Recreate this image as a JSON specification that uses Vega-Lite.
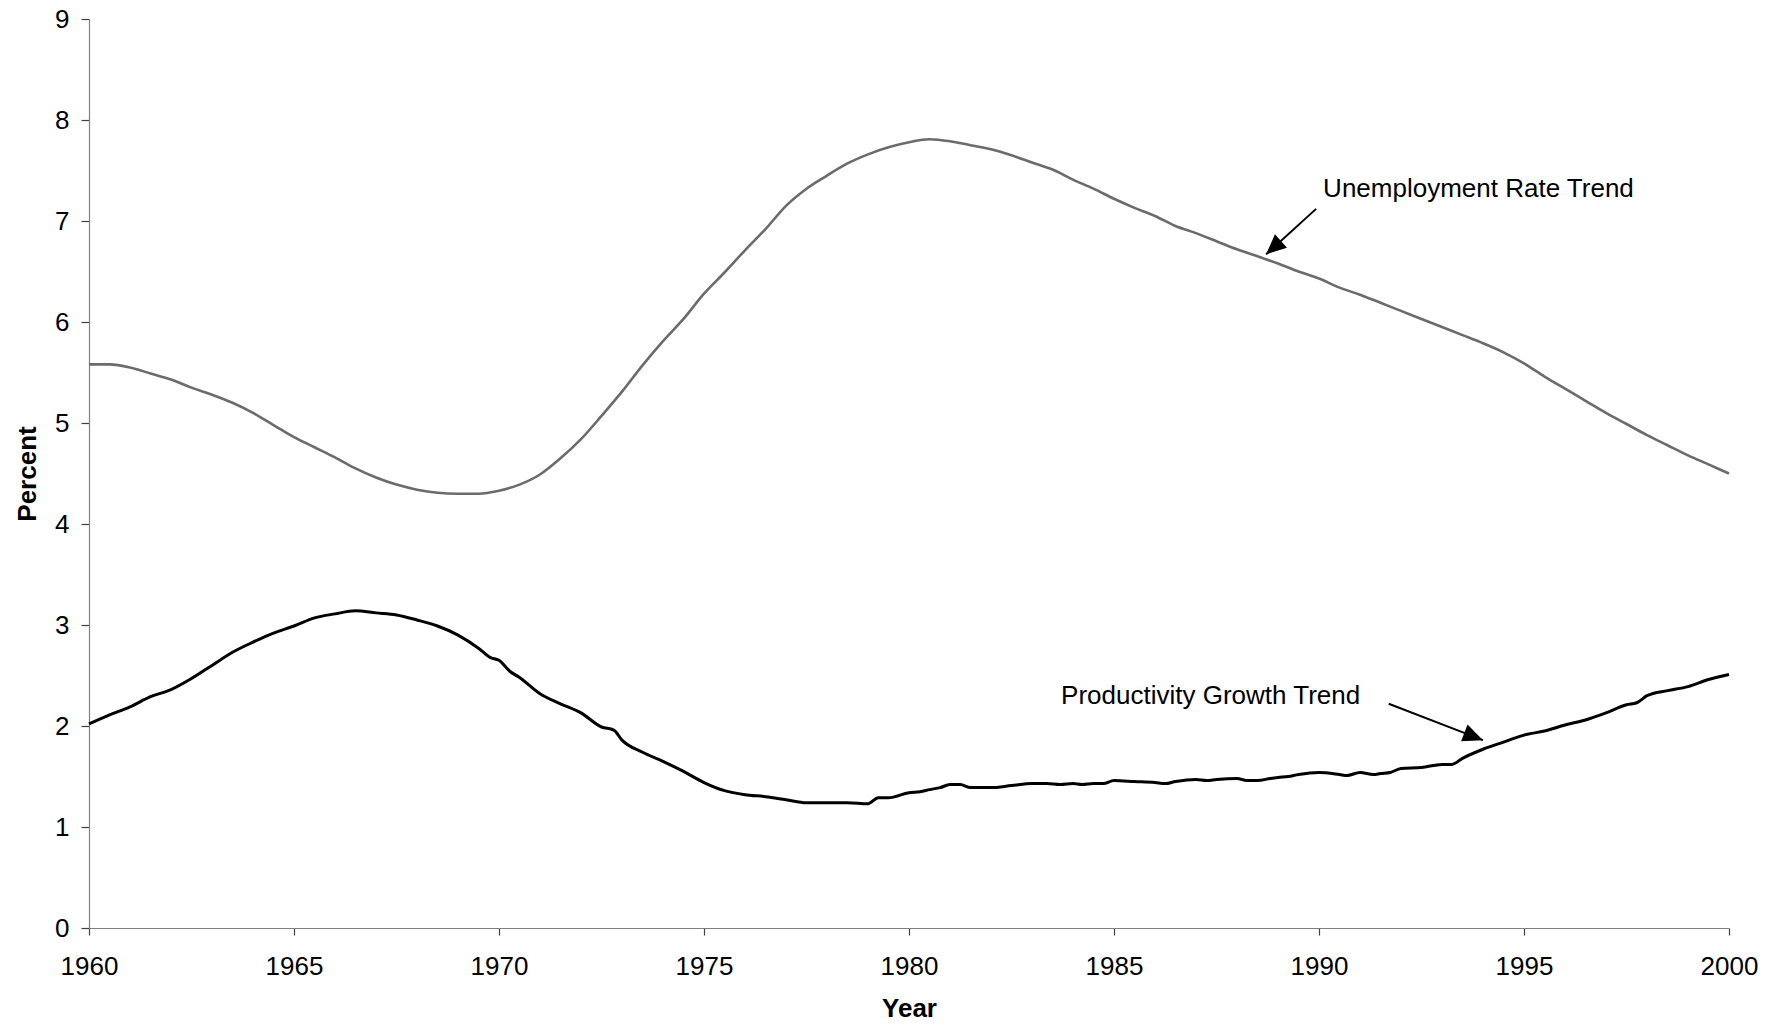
{
  "$schema": "https://vega.github.io/schema/vega-lite/v6.json",
  "width": 1640,
  "height": 909,
  "autosize": {"type": "none"},
  "padding": {"left": 89, "top": 19, "right": 53, "bottom": 99},
  "background": "white",
  "config": {
    "font": "Liberation Sans",
    "view": {"stroke": null},
    "axis": {
      "labelFont": "Liberation Sans",
      "labelFontSize": 26,
      "labelColor": "#000000",
      "titleFont": "Liberation Sans",
      "titleFontSize": 26,
      "titleFontWeight": "bold",
      "titleColor": "#000000",
      "domainColor": "#808080",
      "domainWidth": 1.2,
      "tickColor": "#404040",
      "tickWidth": 1.2,
      "grid": false
    }
  },
  "datasets": {
    "series": [
      {"series": "Unemployment", "year": 1960.0, "value": 5.58},
      {"series": "Unemployment", "year": 1960.5, "value": 5.58},
      {"series": "Unemployment", "year": 1961.0, "value": 5.55},
      {"series": "Unemployment", "year": 1961.5, "value": 5.49},
      {"series": "Unemployment", "year": 1962.0, "value": 5.43},
      {"series": "Unemployment", "year": 1962.5, "value": 5.35},
      {"series": "Unemployment", "year": 1963.0, "value": 5.28},
      {"series": "Unemployment", "year": 1963.5, "value": 5.2},
      {"series": "Unemployment", "year": 1964.0, "value": 5.1},
      {"series": "Unemployment", "year": 1964.5, "value": 4.98},
      {"series": "Unemployment", "year": 1965.0, "value": 4.86},
      {"series": "Unemployment", "year": 1965.5, "value": 4.76},
      {"series": "Unemployment", "year": 1966.0, "value": 4.66},
      {"series": "Unemployment", "year": 1966.5, "value": 4.55},
      {"series": "Unemployment", "year": 1967.0, "value": 4.46},
      {"series": "Unemployment", "year": 1967.5, "value": 4.39},
      {"series": "Unemployment", "year": 1968.0, "value": 4.34},
      {"series": "Unemployment", "year": 1968.5, "value": 4.31},
      {"series": "Unemployment", "year": 1969.0, "value": 4.3},
      {"series": "Unemployment", "year": 1969.5, "value": 4.3},
      {"series": "Unemployment", "year": 1970.0, "value": 4.33},
      {"series": "Unemployment", "year": 1970.5, "value": 4.39},
      {"series": "Unemployment", "year": 1971.0, "value": 4.49},
      {"series": "Unemployment", "year": 1971.5, "value": 4.65},
      {"series": "Unemployment", "year": 1972.0, "value": 4.84},
      {"series": "Unemployment", "year": 1972.5, "value": 5.07},
      {"series": "Unemployment", "year": 1973.0, "value": 5.31},
      {"series": "Unemployment", "year": 1973.5, "value": 5.57},
      {"series": "Unemployment", "year": 1974.0, "value": 5.81},
      {"series": "Unemployment", "year": 1974.5, "value": 6.03},
      {"series": "Unemployment", "year": 1975.0, "value": 6.28},
      {"series": "Unemployment", "year": 1975.5, "value": 6.49},
      {"series": "Unemployment", "year": 1976.0, "value": 6.71},
      {"series": "Unemployment", "year": 1976.5, "value": 6.92},
      {"series": "Unemployment", "year": 1977.0, "value": 7.15},
      {"series": "Unemployment", "year": 1977.5, "value": 7.32},
      {"series": "Unemployment", "year": 1978.0, "value": 7.45},
      {"series": "Unemployment", "year": 1978.5, "value": 7.57},
      {"series": "Unemployment", "year": 1979.0, "value": 7.66},
      {"series": "Unemployment", "year": 1979.5, "value": 7.73},
      {"series": "Unemployment", "year": 1980.0, "value": 7.78},
      {"series": "Unemployment", "year": 1980.5, "value": 7.81},
      {"series": "Unemployment", "year": 1981.0, "value": 7.79},
      {"series": "Unemployment", "year": 1981.5, "value": 7.75},
      {"series": "Unemployment", "year": 1982.0, "value": 7.71},
      {"series": "Unemployment", "year": 1982.5, "value": 7.65},
      {"series": "Unemployment", "year": 1983.0, "value": 7.58},
      {"series": "Unemployment", "year": 1983.5, "value": 7.51},
      {"series": "Unemployment", "year": 1984.0, "value": 7.41},
      {"series": "Unemployment", "year": 1984.5, "value": 7.32},
      {"series": "Unemployment", "year": 1985.0, "value": 7.22},
      {"series": "Unemployment", "year": 1985.5, "value": 7.13},
      {"series": "Unemployment", "year": 1986.0, "value": 7.05},
      {"series": "Unemployment", "year": 1986.5, "value": 6.95},
      {"series": "Unemployment", "year": 1987.0, "value": 6.88},
      {"series": "Unemployment", "year": 1987.5, "value": 6.8},
      {"series": "Unemployment", "year": 1988.0, "value": 6.72},
      {"series": "Unemployment", "year": 1988.5, "value": 6.65},
      {"series": "Unemployment", "year": 1989.0, "value": 6.58},
      {"series": "Unemployment", "year": 1989.5, "value": 6.5},
      {"series": "Unemployment", "year": 1990.0, "value": 6.43},
      {"series": "Unemployment", "year": 1990.5, "value": 6.34},
      {"series": "Unemployment", "year": 1991.0, "value": 6.27},
      {"series": "Unemployment", "year": 1991.5, "value": 6.19},
      {"series": "Unemployment", "year": 1992.0, "value": 6.11},
      {"series": "Unemployment", "year": 1992.5, "value": 6.03},
      {"series": "Unemployment", "year": 1993.0, "value": 5.95},
      {"series": "Unemployment", "year": 1993.5, "value": 5.87},
      {"series": "Unemployment", "year": 1994.0, "value": 5.79},
      {"series": "Unemployment", "year": 1994.5, "value": 5.7},
      {"series": "Unemployment", "year": 1995.0, "value": 5.59},
      {"series": "Unemployment", "year": 1995.5, "value": 5.46},
      {"series": "Unemployment", "year": 1996.0, "value": 5.34},
      {"series": "Unemployment", "year": 1996.5, "value": 5.22},
      {"series": "Unemployment", "year": 1997.0, "value": 5.1},
      {"series": "Unemployment", "year": 1997.5, "value": 4.99},
      {"series": "Unemployment", "year": 1998.0, "value": 4.88},
      {"series": "Unemployment", "year": 1998.5, "value": 4.78},
      {"series": "Unemployment", "year": 1999.0, "value": 4.68},
      {"series": "Unemployment", "year": 1999.5, "value": 4.59},
      {"series": "Unemployment", "year": 2000.0, "value": 4.5},
      {"series": "Productivity", "year": 1960.0, "value": 2.02},
      {"series": "Productivity", "year": 1960.5, "value": 2.11},
      {"series": "Productivity", "year": 1961.0, "value": 2.19},
      {"series": "Productivity", "year": 1961.5, "value": 2.29},
      {"series": "Productivity", "year": 1962.0, "value": 2.36},
      {"series": "Productivity", "year": 1962.5, "value": 2.47},
      {"series": "Productivity", "year": 1963.0, "value": 2.6},
      {"series": "Productivity", "year": 1963.5, "value": 2.73},
      {"series": "Productivity", "year": 1964.0, "value": 2.83},
      {"series": "Productivity", "year": 1964.5, "value": 2.92},
      {"series": "Productivity", "year": 1965.0, "value": 2.99},
      {"series": "Productivity", "year": 1965.5, "value": 3.07},
      {"series": "Productivity", "year": 1966.0, "value": 3.11},
      {"series": "Productivity", "year": 1966.5, "value": 3.14},
      {"series": "Productivity", "year": 1967.0, "value": 3.12},
      {"series": "Productivity", "year": 1967.5, "value": 3.1},
      {"series": "Productivity", "year": 1968.0, "value": 3.05},
      {"series": "Productivity", "year": 1968.5, "value": 2.99},
      {"series": "Productivity", "year": 1969.0, "value": 2.9},
      {"series": "Productivity", "year": 1969.5, "value": 2.77},
      {"series": "Productivity", "year": 1969.78, "value": 2.68},
      {"series": "Productivity", "year": 1970.0, "value": 2.65},
      {"series": "Productivity", "year": 1970.27, "value": 2.54},
      {"series": "Productivity", "year": 1970.5, "value": 2.48},
      {"series": "Productivity", "year": 1971.0, "value": 2.32},
      {"series": "Productivity", "year": 1971.5, "value": 2.22},
      {"series": "Productivity", "year": 1972.0, "value": 2.13},
      {"series": "Productivity", "year": 1972.5, "value": 1.99},
      {"series": "Productivity", "year": 1972.8, "value": 1.96},
      {"series": "Productivity", "year": 1973.0, "value": 1.86},
      {"series": "Productivity", "year": 1973.5, "value": 1.74},
      {"series": "Productivity", "year": 1974.0, "value": 1.65},
      {"series": "Productivity", "year": 1974.5, "value": 1.55},
      {"series": "Productivity", "year": 1975.0, "value": 1.44},
      {"series": "Productivity", "year": 1975.5, "value": 1.36},
      {"series": "Productivity", "year": 1976.0, "value": 1.32},
      {"series": "Productivity", "year": 1976.5, "value": 1.3},
      {"series": "Productivity", "year": 1977.0, "value": 1.27},
      {"series": "Productivity", "year": 1977.5, "value": 1.24},
      {"series": "Productivity", "year": 1978.0, "value": 1.24},
      {"series": "Productivity", "year": 1978.5, "value": 1.24},
      {"series": "Productivity", "year": 1979.0, "value": 1.23},
      {"series": "Productivity", "year": 1979.25, "value": 1.29},
      {"series": "Productivity", "year": 1979.5, "value": 1.29},
      {"series": "Productivity", "year": 1980.0, "value": 1.34},
      {"series": "Productivity", "year": 1980.27, "value": 1.35},
      {"series": "Productivity", "year": 1980.5, "value": 1.37},
      {"series": "Productivity", "year": 1980.76, "value": 1.39},
      {"series": "Productivity", "year": 1981.0, "value": 1.42},
      {"series": "Productivity", "year": 1981.25, "value": 1.42},
      {"series": "Productivity", "year": 1981.5, "value": 1.39},
      {"series": "Productivity", "year": 1982.0, "value": 1.39},
      {"series": "Productivity", "year": 1982.5, "value": 1.41},
      {"series": "Productivity", "year": 1983.0, "value": 1.43},
      {"series": "Productivity", "year": 1983.36, "value": 1.43},
      {"series": "Productivity", "year": 1983.69, "value": 1.42},
      {"series": "Productivity", "year": 1984.0, "value": 1.43},
      {"series": "Productivity", "year": 1984.22, "value": 1.42},
      {"series": "Productivity", "year": 1984.5, "value": 1.43},
      {"series": "Productivity", "year": 1984.74, "value": 1.43},
      {"series": "Productivity", "year": 1985.0, "value": 1.46},
      {"series": "Productivity", "year": 1985.5, "value": 1.45},
      {"series": "Productivity", "year": 1986.0, "value": 1.44},
      {"series": "Productivity", "year": 1986.25, "value": 1.43},
      {"series": "Productivity", "year": 1986.5, "value": 1.45},
      {"series": "Productivity", "year": 1987.0, "value": 1.47},
      {"series": "Productivity", "year": 1987.26, "value": 1.46},
      {"series": "Productivity", "year": 1987.5, "value": 1.47},
      {"series": "Productivity", "year": 1988.0, "value": 1.48},
      {"series": "Productivity", "year": 1988.24, "value": 1.46},
      {"series": "Productivity", "year": 1988.5, "value": 1.46},
      {"series": "Productivity", "year": 1988.81, "value": 1.48},
      {"series": "Productivity", "year": 1989.0, "value": 1.49},
      {"series": "Productivity", "year": 1989.25, "value": 1.5},
      {"series": "Productivity", "year": 1989.5, "value": 1.52},
      {"series": "Productivity", "year": 1990.0, "value": 1.54},
      {"series": "Productivity", "year": 1990.5, "value": 1.52},
      {"series": "Productivity", "year": 1990.68, "value": 1.51},
      {"series": "Productivity", "year": 1991.0, "value": 1.54},
      {"series": "Productivity", "year": 1991.33, "value": 1.52},
      {"series": "Productivity", "year": 1991.5, "value": 1.53},
      {"series": "Productivity", "year": 1991.74, "value": 1.54},
      {"series": "Productivity", "year": 1992.0, "value": 1.58},
      {"series": "Productivity", "year": 1992.5, "value": 1.59},
      {"series": "Productivity", "year": 1993.0, "value": 1.62},
      {"series": "Productivity", "year": 1993.24, "value": 1.62},
      {"series": "Productivity", "year": 1993.5, "value": 1.68},
      {"series": "Productivity", "year": 1994.0, "value": 1.77},
      {"series": "Productivity", "year": 1994.5, "value": 1.84},
      {"series": "Productivity", "year": 1995.0, "value": 1.91},
      {"series": "Productivity", "year": 1995.5, "value": 1.95},
      {"series": "Productivity", "year": 1996.0, "value": 2.01},
      {"series": "Productivity", "year": 1996.5, "value": 2.06},
      {"series": "Productivity", "year": 1997.0, "value": 2.13},
      {"series": "Productivity", "year": 1997.5, "value": 2.21},
      {"series": "Productivity", "year": 1997.75, "value": 2.23},
      {"series": "Productivity", "year": 1998.0, "value": 2.3},
      {"series": "Productivity", "year": 1998.5, "value": 2.35},
      {"series": "Productivity", "year": 1999.0, "value": 2.39},
      {"series": "Productivity", "year": 1999.5, "value": 2.46},
      {"series": "Productivity", "year": 2000.0, "value": 2.51}
    ],
    "notes": [
      {"label": "Unemployment Rate Trend", "tx": 1990.1, "ty": 7.24, "ax": 1989.93, "ay": 7.12, "bx": 1988.71, "by": 6.67},
      {"label": "Productivity Growth Trend", "tx": 1983.71, "ty": 2.22, "ax": 1991.7, "ay": 2.22, "bx": 1994.0, "by": 1.86}
    ]
  },
  "layer": [
    {
      "data": {"name": "series"},
      "transform": [{"filter": "datum.series === 'Unemployment'"}],
      "mark": {"type": "line", "color": "#6b6b6b", "strokeWidth": 2.6, "interpolate": "monotone"},
      "encoding": {
        "x": {
          "field": "year", "type": "quantitative", "title": "Year",
          "scale": {"domain": [1960, 2000], "nice": false, "zero": false},
          "axis": {"values": [1960, 1965, 1970, 1975, 1980, 1985, 1990, 1995, 2000], "format": "d", "tickSize": 7, "labelPadding": 18, "titlePadding": 16, "labelFlush": false, "labelOverlap": false}
        },
        "y": {
          "field": "value", "type": "quantitative", "title": "Percent",
          "scale": {"domain": [0, 9], "nice": false},
          "axis": {"values": [0, 1, 2, 3, 4, 5, 6, 7, 8, 9], "format": "d", "tickSize": 8, "labelPadding": 12, "titlePadding": 14}
        }
      }
    },
    {
      "data": {"name": "series"},
      "transform": [{"filter": "datum.series === 'Productivity'"}],
      "mark": {"type": "line", "color": "#000000", "strokeWidth": 3, "interpolate": "monotone"},
      "encoding": {
        "x": {"field": "year", "type": "quantitative", "title": "Year"},
        "y": {"field": "value", "type": "quantitative", "title": "Percent"}
      }
    },
    {
      "data": {"name": "notes"},
      "mark": {"type": "rule", "color": "#000000", "strokeWidth": 2},
      "encoding": {
        "x": {"field": "ax", "type": "quantitative", "title": "Year"},
        "y": {"field": "ay", "type": "quantitative", "title": "Percent"},
        "x2": {"field": "bx"},
        "y2": {"field": "by"}
      }
    },
    {
      "data": {"name": "notes"},
      "transform": [{"filter": "datum.label === 'Unemployment Rate Trend'"}],
      "mark": {"type": "point", "shape": "M0,0L-1,-0.45L-1,0.45Z", "filled": true, "color": "#000000", "opacity": 1, "size": 1600, "angle": 138, "strokeWidth": 0},
      "encoding": {
        "x": {"field": "bx", "type": "quantitative", "title": "Year"},
        "y": {"field": "by", "type": "quantitative", "title": "Percent"}
      }
    },
    {
      "data": {"name": "notes"},
      "transform": [{"filter": "datum.label === 'Productivity Growth Trend'"}],
      "mark": {"type": "point", "shape": "M0,0L-1,-0.45L-1,0.45Z", "filled": true, "color": "#000000", "opacity": 1, "size": 1600, "angle": 21, "strokeWidth": 0},
      "encoding": {
        "x": {"field": "bx", "type": "quantitative", "title": "Year"},
        "y": {"field": "by", "type": "quantitative", "title": "Percent"}
      }
    },
    {
      "data": {"name": "notes"},
      "mark": {"type": "text", "align": "left", "baseline": "alphabetic", "fontSize": 26, "font": "Liberation Sans", "color": "#000000"},
      "encoding": {
        "x": {"field": "tx", "type": "quantitative", "title": "Year"},
        "y": {"field": "ty", "type": "quantitative", "title": "Percent"},
        "text": {"field": "label"}
      }
    }
  ]
}
